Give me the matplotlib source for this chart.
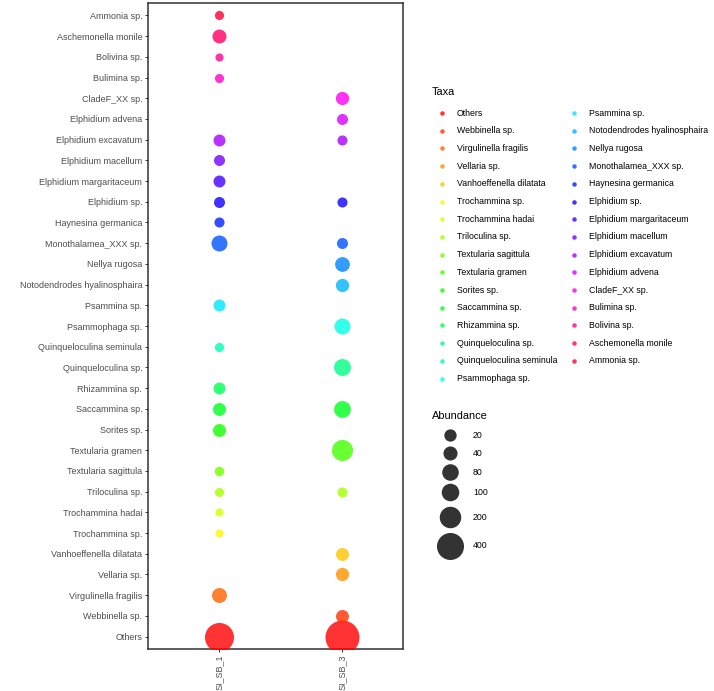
import numpy as np
import matplotlib
matplotlib.use("Agg")
import matplotlib.pyplot as plt
import colorsys

plt.rcParams['font.family'] = ['Liberation Sans', 'DejaVu Sans']

# ---------------- data ----------------
samples = ["SI_SB_1", "SI_SB_3"]

# y-axis order, top to bottom
taxa = [
    "Ammonia sp.", "Aschemonella monile", "Bolivina sp.", "Bulimina sp.",
    "CladeF_XX sp.", "Elphidium advena", "Elphidium excavatum",
    "Elphidium macellum", "Elphidium margaritaceum", "Elphidium sp.",
    "Haynesina germanica", "Monothalamea_XXX sp.", "Nellya rugosa",
    "Notodendrodes hyalinosphaira", "Psammina sp.", "Psammophaga sp.",
    "Quinqueloculina seminula", "Quinqueloculina sp.", "Rhizammina sp.",
    "Saccammina sp.", "Sorites sp.", "Textularia gramen",
    "Textularia sagittula", "Triloculina sp.", "Trochammina hadai",
    "Trochammina sp.", "Vanhoeffenella dilatata", "Vellaria sp.",
    "Virgulinella fragilis", "Webbinella sp.", "Others",
]

nan = np.nan
abund_sb1 = [2, 39, 1, 2,
             nan, nan, 17,
             10, 17, 10,
             5, 70, nan,
             nan, 17, nan,
             2, nan, 17,
             27, 27, nan,
             3, 2, 1,
             1, nan, nan,
             53, nan, 490]
abund_sb3 = [nan, nan, nan, nan,
             30, 10, 5,
             nan, nan, 5,
             nan, 10, 50,
             30, nan, 70,
             nan, 88, nan,
             85, nan, 186,
             nan, 5, nan,
             nan, 27, 30,
             nan, 27, 750]

# legend order of taxa (colour order)
legend_order = taxa[-1:] + taxa[-2::-1]
size_breaks = [20, 40, 80, 100, 200, 400]

# ---------------- figure ----------------
W, H = 714, 691
fig = plt.figure(figsize=(W / 100, H / 100), dpi=100)

FS_AX = 6.5
FS = 6.35
TFS = 7.9


def diam_px(v):
    v = np.asarray(v, float)
    return 8.2 + 0.942 * np.sqrt(np.maximum(v - 1, 0))


def s_of(v):
    return (diam_px(v) * 72 / 100) ** 2


n = len(legend_order)
colors = {name: colorsys.hsv_to_rgb(i / n, 1, 1) for i, name in enumerate(legend_order)}

ax = fig.add_axes([148 / W, 1 - 649 / H, 255 / W, 646 / H])
ypos = {t: i for i, t in enumerate(taxa)}

for xi, vals in enumerate([abund_sb1, abund_sb3]):
    order = [len(taxa) - 1] + list(range(len(taxa) - 1))
    for k in order:
        v = vals[k]
        if np.isnan(v):
            continue
        t = taxa[k]
        ax.scatter([xi], [ypos[t]], s=s_of(v), color=colors[t], alpha=0.8,
                   linewidths=0, zorder=3)

ax.set_xlim(-0.577, 1.496)
ax.set_ylim(len(taxa) - 1 + 0.6, -0.6)
ax.set_yticks(range(len(taxa)))
ax.set_yticklabels(taxa, fontsize=FS_AX, color='#4D4D4D')
ax.set_xticks(range(len(samples)))
ax.set_xticklabels(samples, rotation=90, fontsize=FS_AX, color='#4D4D4D')
ax.tick_params(length=2.2, width=0.7, color='#333333', pad=2)
for sp in ax.spines.values():
    sp.set_color('#333333')
    sp.set_linewidth(1.1)

# ---------------- legends (overlay) ----------------
ov = fig.add_axes([0, 0, 1, 1])
ov.set_xlim(0, W)
ov.set_ylim(H, 0)
ov.axis('off')
ov.patch.set_alpha(0)

ov.text(432, 92, "Taxa", fontsize=TFS, va='center', ha='left', color='black')
y0, dy = 113, 17.7
for i, name in enumerate(legend_order):
    col = 0 if i < 16 else 1
    row = i if i < 16 else i - 16
    mx = 442 if col == 0 else 574
    tx = 457 if col == 0 else 589
    y = y0 + row * dy
    ov.scatter([mx], [y], s=(4.5 * 0.72) ** 2, color=colors[name], alpha=0.8, linewidths=0)
    ov.text(tx, y, name, fontsize=FS, va='center', ha='left', color='black')

ov.text(432, 416, "Abundance", fontsize=TFS, va='center', ha='left', color='black')
size_y = [435, 453, 472, 492, 517, 546]
for b, y in zip(size_breaks, size_y):
    ov.scatter([450], [y], s=s_of(b), color='#333333', linewidths=0)
    ov.text(473, y, str(b), fontsize=FS, va='center', ha='left', color='black')

fig.savefig("out.png", dpi=100)
